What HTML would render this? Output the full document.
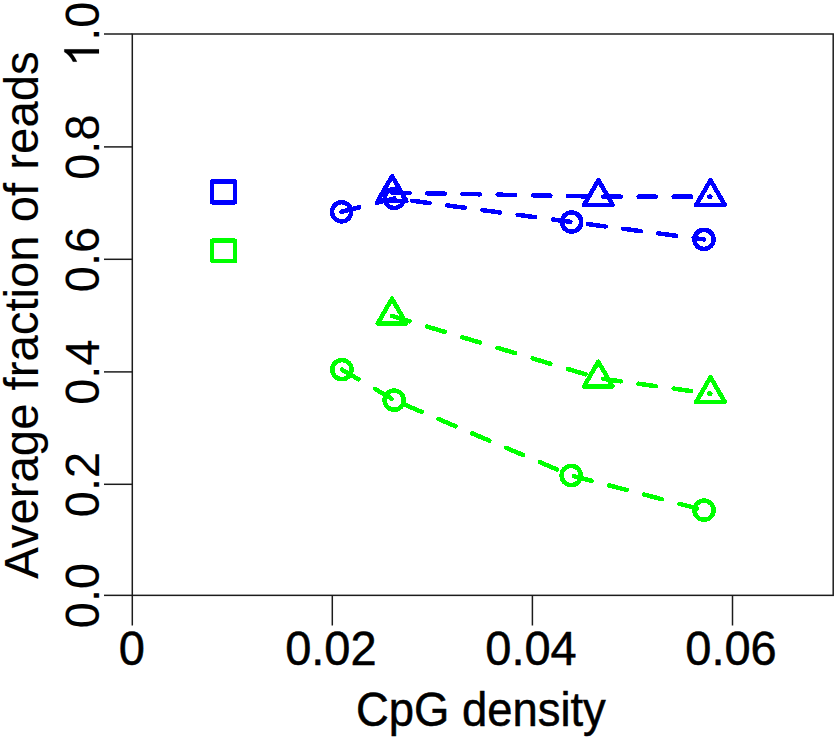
<!DOCTYPE html>
<html><head><meta charset="utf-8"><title>plot</title>
<style>
html,body{margin:0;padding:0;background:#fff;}
svg{display:block;}
text{font-family:"Liberation Sans",sans-serif;font-size:47px;fill:#000;stroke:#000;stroke-width:0.5px;}
text.r{stroke-width:0.12px;}
</style></head>
<body>
<svg width="837" height="738" viewBox="0 0 837 738">
<rect x="0" y="0" width="837" height="738" fill="#fff"/>
<rect x="132.3" y="34.0" width="700.90" height="561.35" fill="none" stroke="#1c1c1c" stroke-width="1.5"/>
<line x1="132.30" y1="595.35" x2="132.30" y2="625.5" stroke="#1c1c1c" stroke-width="1.5"/>
<text transform="translate(131.90,665.00) rotate(0) scale(1.0,1.03)" text-anchor="middle">0</text>
<line x1="332.30" y1="595.35" x2="332.30" y2="625.5" stroke="#1c1c1c" stroke-width="1.5"/>
<text transform="translate(330.90,665.00) rotate(0) scale(1.0,1.03)" text-anchor="middle">0.02</text>
<line x1="532.40" y1="595.35" x2="532.40" y2="625.5" stroke="#1c1c1c" stroke-width="1.5"/>
<text transform="translate(531.00,665.00) rotate(0) scale(1.0,1.03)" text-anchor="middle">0.04</text>
<line x1="732.50" y1="595.35" x2="732.50" y2="625.5" stroke="#1c1c1c" stroke-width="1.5"/>
<text transform="translate(731.00,665.00) rotate(0) scale(1.0,1.03)" text-anchor="middle">0.06</text>
<line x1="104" y1="595.35" x2="132.3" y2="595.35" stroke="#1c1c1c" stroke-width="1.5"/>
<text class="r" transform="translate(99.00,595.55) rotate(-90) scale(1.0,1.03)" text-anchor="middle">0.0</text>
<line x1="104" y1="484.30" x2="132.3" y2="484.30" stroke="#1c1c1c" stroke-width="1.5"/>
<text class="r" transform="translate(99.00,484.50) rotate(-90) scale(1.0,1.03)" text-anchor="middle">0.2</text>
<line x1="104" y1="371.90" x2="132.3" y2="371.90" stroke="#1c1c1c" stroke-width="1.5"/>
<text class="r" transform="translate(99.00,372.10) rotate(-90) scale(1.0,1.03)" text-anchor="middle">0.4</text>
<line x1="104" y1="259.30" x2="132.3" y2="259.30" stroke="#1c1c1c" stroke-width="1.5"/>
<text class="r" transform="translate(99.00,259.50) rotate(-90) scale(1.0,1.03)" text-anchor="middle">0.6</text>
<line x1="104" y1="146.90" x2="132.3" y2="146.90" stroke="#1c1c1c" stroke-width="1.5"/>
<text class="r" transform="translate(99.00,147.10) rotate(-90) scale(1.0,1.03)" text-anchor="middle">0.8</text>
<line x1="104" y1="34.00" x2="132.3" y2="34.00" stroke="#1c1c1c" stroke-width="1.5"/>
<g transform="translate(99.0,34.20) rotate(-90) scale(1,1.03)"><path transform="translate(-32.67,0) scale(0.022949,-0.022949)" d="M763 0H583V1147Q518 1085 412.5 1023T223 930V1104Q373 1174.5 485 1275T644 1470H763Z" fill="#000" stroke="#000" stroke-width="5.2"/><text x="-6.53" y="0" text-anchor="start" class="r">.0</text></g>
<text transform="translate(480.90,726.40) rotate(0) scale(0.966,1.005)" text-anchor="middle">CpG density</text>
<text class="r" transform="translate(37.90,315.10) rotate(-90) scale(1.0065,1.02)" text-anchor="middle">Average fraction of reads</text>
<g shape-rendering="crispEdges">
<path d="M212.0,179.2H235.1Q236.9,179.2 236.9,181.0V202.79999999999998Q236.9,204.6 235.1,204.6H212.0Q210.2,204.6 210.2,202.79999999999998V181.0Q210.2,179.2 212.0,179.2ZM214.3,184.2V199.8H232.5V184.2Z" fill="#0000ff" fill-rule="evenodd"/>
<path d="M212.0,238.4H235.1Q236.9,238.4 236.9,240.20000000000002V261.4Q236.9,263.2 235.1,263.2H212.0Q210.2,263.2 210.2,261.4V240.20000000000002Q210.2,238.4 212.0,238.4ZM214.3,243.2V258.8H232.5V243.2Z" fill="#00ff00" fill-rule="evenodd"/>
<line x1="341.6" y1="211.8" x2="394.3" y2="198.4" stroke="#0000ff" stroke-width="4.5" stroke-dasharray="18.160 18.160" stroke-dashoffset="0.000" stroke-linecap="round"/>
<line x1="394.3" y1="198.4" x2="571.6" y2="222.0" stroke="#0000ff" stroke-width="4.5" stroke-dasharray="17.755 17.755" stroke-dashoffset="17.654" stroke-linecap="round"/>
<line x1="571.6" y1="222.0" x2="704.0" y2="239.4" stroke="#0000ff" stroke-width="4.5" stroke-dasharray="17.751 17.751" stroke-dashoffset="18.962" stroke-linecap="round"/>
<circle cx="341.6" cy="211.8" r="9.6" fill="none" stroke="#0000ff" stroke-width="4.5"/>
<circle cx="394.3" cy="198.4" r="9.6" fill="none" stroke="#0000ff" stroke-width="4.5"/>
<circle cx="571.6" cy="222.0" r="9.6" fill="none" stroke="#0000ff" stroke-width="4.5"/>
<circle cx="704.0" cy="239.4" r="9.6" fill="none" stroke="#0000ff" stroke-width="4.5"/>
<line x1="392.1" y1="192.6" x2="598.4" y2="196.6" stroke="#0000ff" stroke-width="4.5" stroke-dasharray="17.603 17.603" stroke-dashoffset="0.000" stroke-linecap="round"/>
<line x1="598.4" y1="196.6" x2="710.5" y2="196.7" stroke="#0000ff" stroke-width="4.5" stroke-dasharray="17.600 17.600" stroke-dashoffset="30.300" stroke-linecap="round"/>
<polygon points="392.10,176.10 406.39,200.85 377.81,200.85" fill="none" stroke="#0000ff" stroke-width="4.5" stroke-linejoin="round"/>
<polygon points="598.40,180.10 612.69,204.85 584.11,204.85" fill="none" stroke="#0000ff" stroke-width="4.5" stroke-linejoin="round"/>
<polygon points="710.50,180.20 724.79,204.95 696.21,204.95" fill="none" stroke="#0000ff" stroke-width="4.5" stroke-linejoin="round"/>
<line x1="341.9" y1="369.6" x2="394.2" y2="400.2" stroke="#00ff00" stroke-width="4.5" stroke-dasharray="19.175 19.175" stroke-dashoffset="0.000" stroke-linecap="round"/>
<line x1="394.2" y1="400.2" x2="571.2" y2="475.5" stroke="#00ff00" stroke-width="4.5" stroke-dasharray="18.366 18.366" stroke-dashoffset="25.237" stroke-linecap="round"/>
<line x1="571.2" y1="475.5" x2="704.0" y2="510.2" stroke="#00ff00" stroke-width="4.5" stroke-dasharray="18.191 18.191" stroke-dashoffset="33.608" stroke-linecap="round"/>
<circle cx="341.9" cy="369.6" r="9.6" fill="none" stroke="#00ff00" stroke-width="4.5"/>
<circle cx="394.2" cy="400.2" r="9.6" fill="none" stroke="#00ff00" stroke-width="4.5"/>
<circle cx="571.2" cy="475.5" r="9.6" fill="none" stroke="#00ff00" stroke-width="4.5"/>
<circle cx="704.0" cy="510.2" r="9.6" fill="none" stroke="#00ff00" stroke-width="4.5"/>
<line x1="392.0" y1="316.0" x2="598.3" y2="378.2" stroke="#00ff00" stroke-width="4.5" stroke-dasharray="18.383 18.383" stroke-dashoffset="0.000" stroke-linecap="round"/>
<line x1="598.3" y1="378.2" x2="710.5" y2="393.7" stroke="#00ff00" stroke-width="4.5" stroke-dasharray="17.767 17.767" stroke-dashoffset="30.588" stroke-linecap="round"/>
<polygon points="392.00,298.70 406.29,323.45 377.71,323.45" fill="none" stroke="#00ff00" stroke-width="4.5" stroke-linejoin="round"/>
<polygon points="598.30,361.70 612.59,386.45 584.01,386.45" fill="none" stroke="#00ff00" stroke-width="4.5" stroke-linejoin="round"/>
<polygon points="710.50,377.20 724.79,401.95 696.21,401.95" fill="none" stroke="#00ff00" stroke-width="4.5" stroke-linejoin="round"/>
</g>
</svg>
</body></html>
